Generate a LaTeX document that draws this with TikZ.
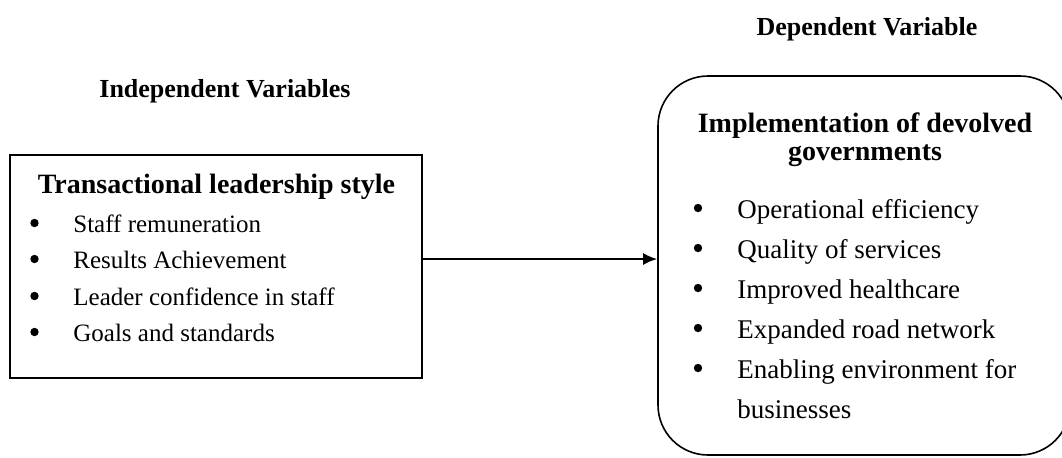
\documentclass[tikz,border=0pt]{standalone}
\usepackage{fontspec}
\setmainfont{Liberation Serif}
\usetikzlibrary{arrows.meta}
\tikzset{
  hd/.style={font=\fontsize{13}{15}\selectfont\bfseries, inner sep=0pt, anchor=base},
  boxhd/.style={font=\fontsize{14}{16}\selectfont\bfseries, inner sep=0pt, anchor=base},
  itemL/.style={font=\fontsize{12.5}{15}\selectfont, inner sep=0pt, anchor=base west},
  itemR/.style={font=\fontsize{13.5}{16}\selectfont, inner sep=0pt, anchor=base west},
  dot/.style={circle, fill, inner sep=0pt, minimum size=4.2pt}
}
\begin{document}
\begin{tikzpicture}[x=0.5pt,y=-0.5pt]
\useasboundingbox (0,0) rectangle (1062,457);
% headings
\node[hd] (indtitle) at (225,97) {Independent Variables};
\node[hd] (deptitle) at (867,35) {Dependent Variable};
% left box
\node[draw, line width=1pt, minimum width=206pt, minimum height=111.5pt, inner sep=0pt] (ind) at (216,266.5) {};
\node[boxhd] (indhead) at (216.5,193) {Transactional leadership style};
\node[dot] (d1) at (34.5,223) {};
\node[itemL] (i1) at (73,232) {Staff remuneration};
\node[dot] (d2) at (34.5,259) {};
\node[itemL] (i2) at (73,268) {Results Achievement};
\node[dot] (d3) at (34.5,296) {};
\node[itemL] (i3) at (73,305) {Leader confidence in staff};
\node[dot] (d4) at (34.5,332) {};
\node[itemL] (i4) at (73,341) {Goals and standards};
% right box
\node[draw, line width=0.8pt, rounded corners=25pt, minimum width=206pt, minimum height=189.5pt, inner sep=0pt] (dep) at (864,265.5) {};
\node[boxhd] (dephead1) at (865,132) {Implementation of devolved};
\node[boxhd] (dephead2) at (865,160) {governments};
\node[dot] (e1) at (698,208) {};
\node[itemR] (j1) at (737,218) {Operational efficiency};
\node[dot] (e2) at (698,248) {};
\node[itemR] (j2) at (737,258) {Quality of services};
\node[dot] (e3) at (698,288) {};
\node[itemR] (j3) at (737,298) {Improved healthcare};
\node[dot] (e4) at (698,328) {};
\node[itemR] (j4) at (737,338) {Expanded road network};
\node[dot] (e5) at (698,368) {};
\node[itemR] (j5) at (737,378) {Enabling environment for};
\node[itemR] (j6) at (737,418) {businesses};
% arrow
\coordinate (arr) at (0,259);
\draw[line width=1pt, -{Latex[length=7pt,width=6pt]}] (ind.east |- arr) -- (dep.west |- arr);
\end{tikzpicture}
\end{document}
